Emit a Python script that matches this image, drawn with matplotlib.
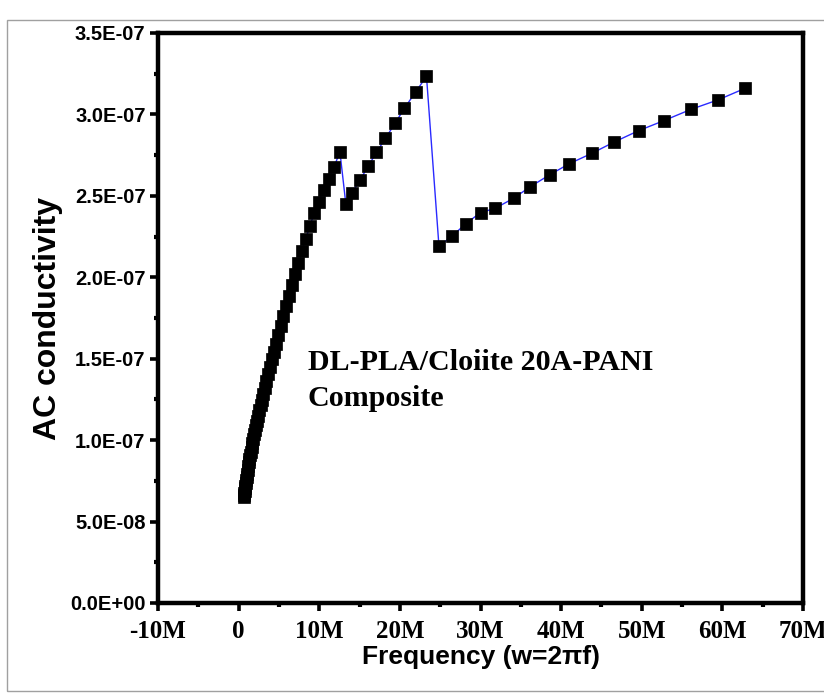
import matplotlib
matplotlib.use("Agg")
import matplotlib.pyplot as plt
from matplotlib.ticker import MultipleLocator, FuncFormatter
from matplotlib.patches import Rectangle

# Angular frequency w = 2*pi*f, in units of 1e6 (M)
freq_M = [0.628, 0.666, 0.706, 0.749, 0.794, 0.842, 0.893, 0.947, 1.005, 1.066,
          1.130, 1.198, 1.271, 1.348, 1.429, 1.516, 1.607, 1.705, 1.808, 1.917,
          2.033, 2.156, 2.287, 2.425, 2.572, 2.727, 2.892, 3.067, 3.253, 3.450,
          3.658, 3.880, 4.114, 4.363, 4.627, 4.907, 5.204, 5.519, 5.853, 6.207,
          6.583, 6.981, 7.403, 7.851, 8.326, 8.830, 9.364, 9.931, 10.532, 11.170,
          11.845, 12.562,
          13.3, 14.1, 15.1, 16.1, 17.1, 18.2, 19.4, 20.55, 21.96, 23.3,
          24.85, 26.5, 28.2, 30.0, 31.8, 34.1, 36.2, 38.6, 41.0, 43.8,
          46.6, 49.6, 52.7, 56.1, 59.5, 62.8]
# AC conductivity, in units of 1e-7
sigma_e7 = [0.650, 0.663, 0.676, 0.690, 0.705, 0.721, 0.738, 0.756, 0.775, 0.795,
            0.817, 0.839, 0.863, 0.884, 0.906, 0.930, 0.955, 0.982, 1.010, 1.038,
            1.064, 1.091, 1.120, 1.151, 1.183, 1.215, 1.249, 1.285, 1.323, 1.364,
            1.407, 1.451, 1.496, 1.543, 1.593, 1.646, 1.703, 1.763, 1.826, 1.888,
            1.953, 2.021, 2.088, 2.159, 2.235, 2.314, 2.392, 2.465, 2.534, 2.604,
            2.679, 2.770,
            2.45, 2.52, 2.60, 2.685, 2.767, 2.853, 2.945, 3.037, 3.138, 3.234,
            2.19, 2.254, 2.33, 2.397, 2.423, 2.485, 2.557, 2.63, 2.697, 2.761,
            2.831, 2.90, 2.961, 3.031, 3.09, 3.16]

x = [v * 1e6 for v in freq_M]
y = [v * 1e-7 for v in sigma_e7]

annotation = "DL-PLA/Cloiite 20A-PANI\nComposite"
xlabel = "Frequency (w=2\u03c0f)"
ylabel = "AC conductivity"

fig = plt.figure(figsize=(8.24, 6.93), dpi=100)
ax = fig.add_axes([158/824, 90/693, (803-158)/824, (603-33)/693])

ax.plot(x, y, color="#2a2aff", lw=1.0, marker="s", markersize=9.2,
        markerfacecolor="black", markeredgecolor="black", markeredgewidth=0.5)

ax.set_xlim(-10e6, 70e6)
ax.set_ylim(0, 3.5e-7)
ax.xaxis.set_major_locator(MultipleLocator(10e6))
ax.xaxis.set_minor_locator(MultipleLocator(5e6))
ax.yaxis.set_major_locator(MultipleLocator(0.5e-7))
ax.yaxis.set_minor_locator(MultipleLocator(0.25e-7))

def xfmt(v, pos):
    m = round(v / 1e6)
    return "0" if m == 0 else f"{m}M"

def yfmt(v, pos):
    return f"{v:.1E}"

ax.xaxis.set_major_formatter(FuncFormatter(xfmt))
ax.yaxis.set_major_formatter(FuncFormatter(yfmt))

for s in ax.spines.values():
    s.set_linewidth(3.2)
ax.tick_params(which="major", direction="out", length=6, width=2.6,
               top=False, right=False)
ax.tick_params(which="minor", direction="out", length=3, width=3,
               top=False, right=False)
ax.tick_params(axis="x", which="major", pad=6)
ax.tick_params(axis="y", which="major", pad=3)

for lab in ax.get_xticklabels():
    lab.set_fontfamily("Liberation Serif")
    lab.set_fontweight("bold")
    lab.set_fontsize(18)
for lab in ax.get_yticklabels():
    lab.set_fontfamily("Liberation Sans")
    lab.set_fontweight("bold")
    lab.set_fontsize(14.5)

ax.set_xlabel(xlabel, family="Liberation Sans", fontweight="bold",
              fontsize=19, labelpad=2)
ax.set_ylabel(ylabel, family="Liberation Sans", fontweight="bold",
              fontsize=23, labelpad=5)

ax.text(8.55e6, 1.172e-7, annotation, family="Liberation Serif",
        fontweight="bold", fontsize=21.6, linespacing=1.45,
        ha="left", va="bottom")

fig.patches.append(Rectangle((7/824, 2/693), 1.0, (691-20)/693,
                             transform=fig.transFigure, fill=False,
                             edgecolor="#a0a0a0", lw=1.0))

fig.savefig("out.png", dpi=100)
